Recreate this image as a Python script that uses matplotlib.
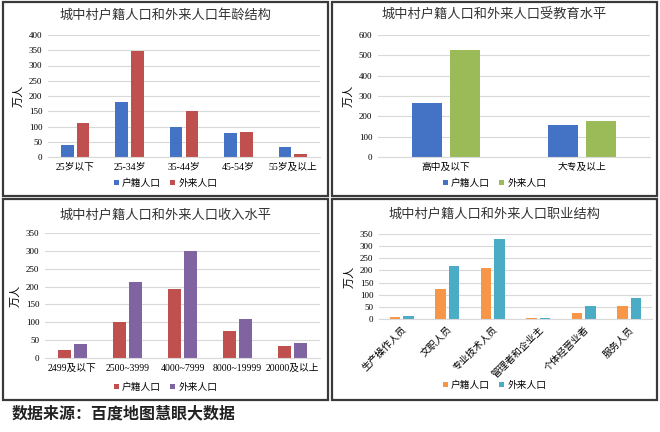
import matplotlib
matplotlib.use("Agg")
import matplotlib.pyplot as plt
from matplotlib.patches import Rectangle
import numpy as np

plt.rcParams['font.family'] = ['Noto Sans CJK SC', 'DejaVu Sans']

# ---- data ----
age_labels = ["25岁以下", "25-34岁", "35-44岁", "45-54岁", "55岁及以上"]
age_local = [38, 180, 100, 78, 33]
age_migrant = [112, 347, 152, 82, 10]

edu_labels = ["高中及以下", "大专及以上"]
edu_local = [268, 158]
edu_migrant = [527, 175]

inc_labels = ["2499及以下", "2500~3999", "4000~7999", "8000~19999", "20000及以上"]
inc_local = [23, 101, 193, 75, 35]
inc_migrant = [39, 212, 301, 108, 42]

job_labels = ["生产操作人员", "文职人员", "专业技术人员", "管理者和企业主", "个体经营业者", "服务人员"]
job_local = [10, 123, 210, 3, 25, 55]
job_migrant = [12, 218, 328, 5, 52, 86]

series_names = ["户籍人口", "外来人口"]

W, H = 660, 432
fig = plt.figure(figsize=(W / 100, H / 100), dpi=100)


def fr(x0, y0, x1, y1):
    # pixel box (top-left origin) -> figure fraction rect
    return [x0 / W, 1 - y1 / H, (x1 - x0) / W, (y1 - y0) / H]


def panel(box, ax_box, title, title_y, labels, local, migrant, colors,
          ymax, step, legend_y, rotate=False, gap=0.06, w=0.23):
    # frame
    x0, y0, x1, y1 = box
    fig.patches.append(Rectangle((x0 / W, 1 - y1 / H), (x1 - x0) / W, (y1 - y0) / H,
                                 transform=fig.transFigure, fill=False,
                                 edgecolor="#3a3a3a", linewidth=1.6))
    fig.text((x0 + x1) / 2 / W, 1 - title_y / H, title, ha="center", va="center",
             fontsize=9.5, color="#333333")

    ax = fig.add_axes(fr(*ax_box))
    x = np.arange(len(labels))
    ax.bar(x - w / 2 - gap / 2, local, w, color=colors[0], label=series_names[0])
    ax.bar(x + w / 2 + gap / 2, migrant, w, color=colors[1], label=series_names[1])
    ax.set_xlim(-0.5, len(labels) - 0.5)
    ax.set_ylim(0, ymax)
    ax.set_yticks(np.arange(0, ymax + 1, step))
    ax.yaxis.grid(True, color="#d9d9d9", linewidth=0.8)
    ax.set_axisbelow(True)
    for s in ["top", "right", "left"]:
        ax.spines[s].set_visible(False)
    ax.spines["bottom"].set_color("#d9d9d9")
    ax.tick_params(axis="y", length=0, labelsize=6.5, pad=4)
    ax.tick_params(axis="x", length=0, labelsize=7, pad=4)
    for t in ax.get_yticklabels():
        t.set_fontfamily(["Liberation Serif", "DejaVu Serif"])
    ax.set_xticks(x)
    if rotate:
        ax.set_xticklabels(labels, rotation=45, ha="right", rotation_mode="anchor",
                           fontsize=7)
    else:
        ax.set_xticklabels(labels, fontsize=7,
                           fontfamily=["Liberation Serif", "Noto Sans CJK SC"])
    ax.set_ylabel("万人", fontsize=8, labelpad=4)
    fig.legend(handles=ax.patches[:1] + ax.patches[len(labels):len(labels) + 1],
               labels=series_names, loc="center",
               bbox_to_anchor=((x0 + x1) / 2 / W, 1 - legend_y / H),
               ncol=2, frameon=False, fontsize=7, handlelength=0.5, handleheight=0.5,
               columnspacing=1.0, handletextpad=0.3)
    return ax


panel((3, 2, 328, 196), (48, 35, 320, 157), "城中村户籍人口和外来人口年龄结构", 15,
      age_labels, age_local, age_migrant, ["#4472C4", "#C0504D"], 400, 50, 183)
panel((332, 2, 657, 196), (378, 35, 650, 157), "城中村户籍人口和外来人口受教育水平", 15,
      edu_labels, edu_local, edu_migrant, ["#4472C4", "#9BBB59"], 600, 100, 183,
      gap=0.066, w=0.22)
panel((3, 199, 328, 400), (45, 233, 320, 358), "城中村户籍人口和外来人口收入水平", 215,
      inc_labels, inc_local, inc_migrant, ["#C0504D", "#8064A2"], 350, 50, 387)
panel((332, 199, 657, 400), (379, 234, 652, 319), "城中村户籍人口和外来人口职业结构", 214,
      job_labels, job_local, job_migrant, ["#F79646", "#4BACC6"], 350, 50, 385,
      rotate=True, gap=0.07)

fig.text(12 / W, 1 - 413 / H, "数据来源：百度地图慧眼大数据", ha="left", va="center",
         fontsize=11.5, fontweight="bold", color="#222222")

fig.savefig("out.png", dpi=100)
